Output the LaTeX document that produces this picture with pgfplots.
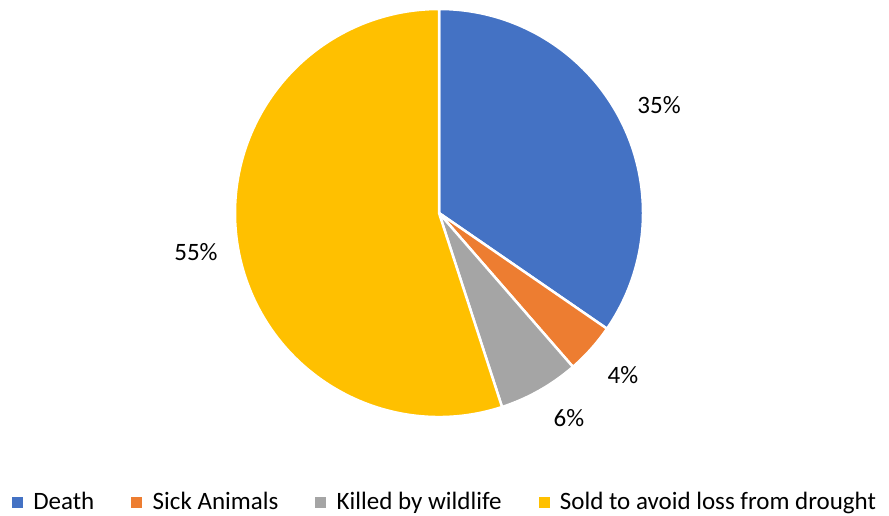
\documentclass[border=0pt]{standalone}
\usepackage{pgfplots}
\pgfplotsset{compat=1.18}
\usepackage{fontspec}
\setmainfont{Carlito}
\definecolor{cDeath}{HTML}{4472C4}
\definecolor{cSick}{HTML}{ED7D31}
\definecolor{cWild}{HTML}{A5A5A5}
\definecolor{cSold}{HTML}{FFC000}
\begin{document}
\begin{tikzpicture}
\begin{axis}[
  hide axis, scale only axis, clip=false,
  x=1bp, y=1bp,
  xmin=0, xmax=889, ymin=0, ymax=516,
  legend columns=4,
  legend style={draw=none, fill=none, at={(axis cs:445,14)}, anchor=center,
    font=\fontsize{25bp}{29bp}\selectfont,
    /tikz/every odd column/.append style={column sep=9bp},
    /tikz/every even column/.append style={column sep=35bp}},
  legend cell align=left,
]
\path (axis cs:0,0) rectangle (axis cs:889,516);
\addlegendimage{legend image code/.code={\fill[cDeath] (0bp,-5bp) rectangle (10bp,5bp);}}
\addlegendentry{Death}
\addlegendimage{legend image code/.code={\fill[cSick] (0bp,-5bp) rectangle (10bp,5bp);}}
\addlegendentry{Sick Animals}
\addlegendimage{legend image code/.code={\fill[cWild] (0bp,-5bp) rectangle (10bp,5bp);}}
\addlegendentry{Killed by wildlife}
\addlegendimage{legend image code/.code={\fill[cSold] (0bp,-5bp) rectangle (10bp,5bp);}}
\addlegendentry{Sold to avoid loss from drought}
\def\cum{0}
\pgfplotsforeachungrouped \v/\c in {34.6/cDeath, 4.0/cSick, 6.4/cWild, 55.0/cSold}{%
  \pgfmathsetmacro\sa{90-3.6*\cum}%
  \pgfmathsetmacro\ea{90-3.6*(\cum+\v)}%
  \edef\temp{\noexpand\fill[\c, draw=white, line width=2.5bp, line join=round] (axis cs:439,303) -- ++(\sa:204bp) arc[start angle=\sa, end angle=\ea, radius=204bp] -- cycle;}%
  \temp
  \pgfmathsetmacro\cum{\cum+\v}%
}
\node[font=\fontsize{25bp}{29bp}\selectfont] at (axis cs:659,411) {35\%};
\node[font=\fontsize{25bp}{29bp}\selectfont] at (axis cs:623,141) {4\%};
\node[font=\fontsize{25bp}{29bp}\selectfont] at (axis cs:569,98) {6\%};
\node[font=\fontsize{25bp}{29bp}\selectfont] at (axis cs:196,264) {55\%};
\end{axis}
\end{tikzpicture}
\end{document}
